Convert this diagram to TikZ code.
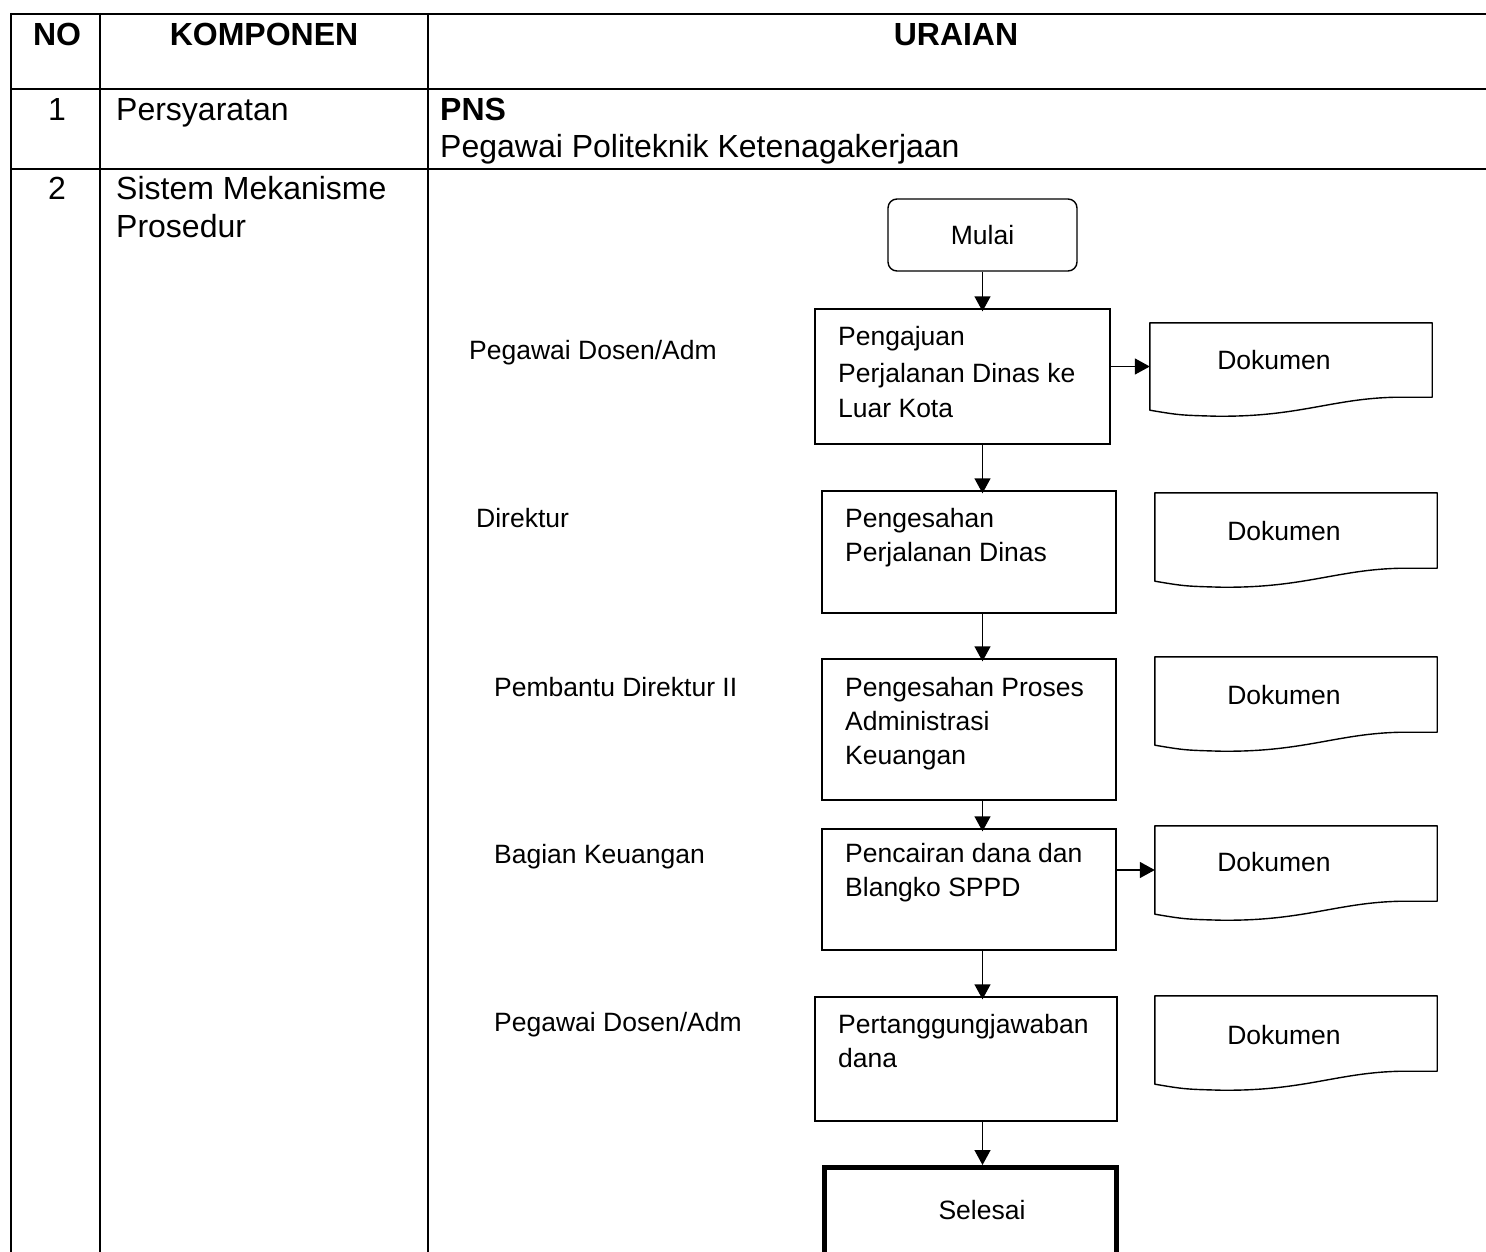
\documentclass[tikz,border=0pt]{standalone}
\usepackage{fontspec}
\setmainfont{Liberation Sans}
\usetikzlibrary{arrows.meta,calc}

\tikzset{
  grid/.style={line width=2pt},
  tabtext/.style={font=\fontsize{32}{37}\selectfont, inner sep=0pt},
  tabhead/.style={font=\fontsize{32}{37}\selectfont\bfseries, inner sep=0pt},
  ftext/.style={font=\fontsize{26.5}{35}\selectfont, inner sep=0pt, align=left},
  procbox/.style={draw, rectangle, line width=1.4pt, inner sep=0pt},
  docbox/.style={rectangle, inner sep=0pt, minimum width=282pt, minimum height=88pt},
  arr/.style={line width=1.4pt, -{Triangle[length=15pt,width=16pt]}, shorten >=-3pt},
}

% document symbol: straight top and sides, wavy bottom edge
\newcommand\docoutline[1]{%
  \draw[line width=1.4pt, line join=round]
    (#1.south west) -- (#1.north west) -- (#1.north east)
    -- ($(#1.south east)+(0,-13)$) -- ($(#1.south east)+(-35,-13)$)
    .. controls ($(#1.south east)+(-100,-12)$) and ($(#1.south west)+(150,7)$)
    .. ($(#1.south west)+(66,6)$)
    .. controls ($(#1.south west)+(30,5)$) .. (#1.south west) -- cycle;}

\begin{document}
\begin{tikzpicture}[x=1pt,y=-1pt]
\useasboundingbox (0,0) rectangle (1486,1252);
\clip (0,0) rectangle (1486,1252);
\fill[white] (0,0) rectangle (1486,1252);

% ---- table frame (open on the right and at the bottom) ----
\draw[grid] (11,14) -- (1490,14);
\draw[grid] (11,89) -- (1490,89);
\draw[grid] (11,169) -- (1490,169);
\draw[grid] (11,13) -- (11,1256);
\draw[grid] (100,13) -- (100,1256);
\draw[grid] (428,13) -- (428,1256);

% ---- header ----
\node[tabhead, anchor=base] (hno)   at (57,46)  {NO};
\node[tabhead, anchor=base] (hkomp) at (264,46) {KOMPONEN};
\node[tabhead, anchor=base] (hur)   at (956,46) {URAIAN};

% ---- row 1 ----
\node[tabtext, anchor=base] (n1) at (57,121) {1};
\node[tabtext, anchor=base west] (k1) at (116,121) {Persyaratan};
\node[tabhead, anchor=base west] (u1a) at (440,121) {PNS};
\node[tabtext, anchor=base west] (u1b) at (440,158) {Pegawai Politeknik Ketenagakerjaan};

% ---- row 2 ----
\node[tabtext, anchor=base] (n2) at (57,200) {2};
\node[tabtext, anchor=base west] (k2a) at (116,200) {Sistem Mekanisme};
\node[tabtext, anchor=base west] (k2b) at (116,237) {Prosedur};

% ---- lane labels ----
\node[ftext, anchor=base west] (l1) at (469,359) {Pegawai Dosen/Adm};
\node[ftext, anchor=base west] (l2) at (476,527) {Direktur};
\node[ftext, anchor=base west] (l3) at (494,696) {Pembantu Direktur II};
\node[ftext, anchor=base west] (l4) at (494,863) {Bagian Keuangan};
\node[ftext, anchor=base west] (l5) at (494,1031) {Pegawai Dosen/Adm};

% ---- process boxes ----
\node[procbox, rounded corners=9pt, minimum width=189pt, minimum height=72pt,
      font=\fontsize{26.5}{35}\selectfont] (m) at (982.5,235) {Mulai};
\node[procbox, minimum width=295pt, minimum height=135pt] (b1) at (962.5,376.5) {};
\node[procbox, minimum width=294pt, minimum height=122pt] (b2) at (969,552) {};
\node[procbox, minimum width=294pt, minimum height=141pt] (b3) at (969,729.5) {};
\node[procbox, minimum width=294pt, minimum height=121pt] (b4) at (969,889.5) {};
\node[procbox, minimum width=302pt, minimum height=124pt] (b5) at (966,1059) {};
\node[procbox, line width=5pt, minimum width=292pt, minimum height=110pt] (sel) at (970,1222) {};

% ---- box texts ----
\node[ftext, anchor=base west] (t1a) at (838,345) {Pengajuan};
\node[ftext, anchor=base west] (t1b) at (838,382) {Perjalanan Dinas ke};
\node[ftext, anchor=base west] (t1c) at (838,417) {Luar Kota};
\node[ftext, anchor=base west] (t2a) at (845,527) {Pengesahan};
\node[ftext, anchor=base west] (t2b) at (845,561) {Perjalanan Dinas};
\node[ftext, anchor=base west] (t3a) at (845,696) {Pengesahan Proses};
\node[ftext, anchor=base west] (t3b) at (845,730) {Administrasi};
\node[ftext, anchor=base west] (t3c) at (845,764) {Keuangan};
\node[ftext, anchor=base west] (t4a) at (845,862) {Pencairan dana dan};
\node[ftext, anchor=base west] (t4b) at (845,896) {Blangko SPPD};
\node[ftext, anchor=base west] (t5a) at (838,1033) {Pertanggungjawaban};
\node[ftext, anchor=base west] (t5b) at (838,1067) {dana};
\node[ftext] (tsel) at (982,1210) {Selesai};

% ---- document symbols ----
\node[docbox, minimum width=282pt, minimum height=87pt] (d1) at (1291,366.5) {};
\node[docbox] (d2) at (1296,537) {};
\node[docbox] (d3) at (1296,701) {};
\node[docbox] (d4) at (1296,870) {};
\node[docbox] (d5) at (1296,1040) {};
\docoutline{d1}
\docoutline{d2}
\docoutline{d3}
\docoutline{d4}
\docoutline{d5}
\node[ftext] (dt1) at (1274,360) {Dokumen};
\node[ftext] (dt2) at (1284,531) {Dokumen};
\node[ftext] (dt3) at (1284,695) {Dokumen};
\node[ftext] (dt4) at (1274,862) {Dokumen};
\node[ftext] (dt5) at (1284,1035) {Dokumen};

% ---- flow connectors ----
\draw[arr] (m.south) -- (b1.north -| m.south);
\draw[arr] (b1.south -| m.south) -- (b2.north -| m.south);
\draw[arr] (b2.south -| m.south) -- (b3.north -| m.south);
\draw[arr] (b3.south -| m.south) -- (b4.north -| m.south);
\draw[arr] (b4.south -| m.south) -- (b5.north -| m.south);
\draw[arr] (b5.south -| m.south) -- ($(sel.north -| m.south)+(0,-2.5)$);
\draw[arr, shorten >=0pt] (b1.east |- d1.west) -- (d1.west);
\draw[arr, shorten >=0pt] (b4.east |- d4.west) -- (d4.west);
\end{tikzpicture}
\end{document}
